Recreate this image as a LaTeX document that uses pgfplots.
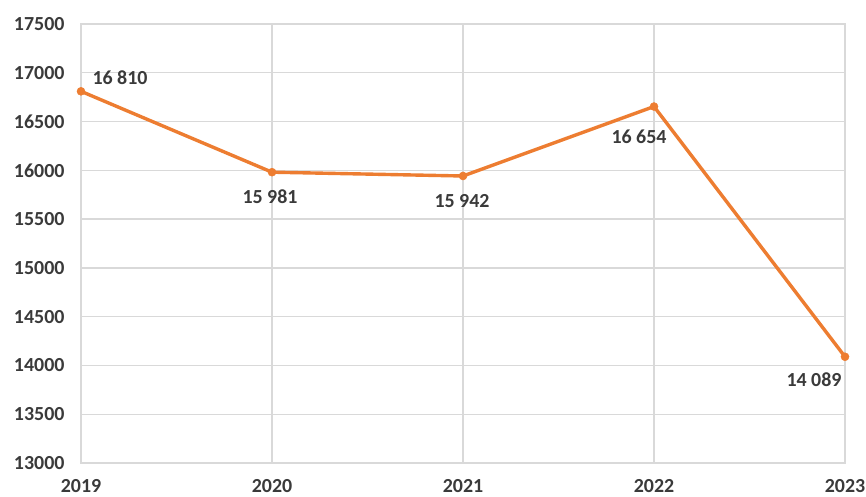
\documentclass[border=0pt]{standalone}
\usepackage{pgfplots}
\usepackage{pgfplotstable}
\pgfplotsset{compat=1.18}
\usepackage{fontspec}
\setmainfont{Carlito}
\definecolor{lineor}{HTML}{ED7D31}
\definecolor{gridg}{HTML}{D9D9D9}
\definecolor{txt}{HTML}{3A3A3A}
\pgfplotstableread{
year value
2019 16810
2020 15981
2021 15942
2022 16654
2023 14089
}\datatable
\tikzset{lbl/.style={anchor=center, inner sep=0pt, font=\fontsize{20}{23}\selectfont\bfseries, text=txt}}
\begin{document}
\begin{tikzpicture}
\begin{axis}[name=ax, at={(0,0)}, anchor=south west,
  scale only axis, width=764bp, height=439bp,
  xmin=2019, xmax=2023, ymin=13000, ymax=17500,
  xtick={2019,2020,2021,2022,2023},
  ytick={13000,13500,14000,14500,15000,15500,16000,16500,17000,17500},
  grid=major, major grid style={draw=gridg, line width=1.3bp},
  axis line style={draw=gridg, line width=1.3bp},
  major tick length=0pt,
  scaled ticks=false,
  /pgf/number format/1000 sep={},
  /pgf/number format/assume math mode=true,
  tick label style={font=\fontsize{20}{23}\selectfont\bfseries, text=txt},
  yticklabel style={xshift=-13bp},
  xticklabel style={yshift=-13bp},
  clip=false]
\addplot[draw=lineor, line width=3.4bp, mark=*, mark size=4bp,
  mark options={fill=lineor, draw=lineor, line width=0.5bp}]
  table[x=year, y=value] {\datatable};
\node[lbl, xshift=39bp, yshift=14bp] at (axis cs:2019,16810) {16 810};
\node[lbl, xshift=-2bp, yshift=-25bp] at (axis cs:2020,15981) {15 981};
\node[lbl, xshift=-1bp, yshift=-25bp] at (axis cs:2021,15942) {15 942};
\node[lbl, xshift=-15bp, yshift=-30bp] at (axis cs:2022,16654) {16 654};
\node[lbl, xshift=-31bp, yshift=-23bp] at (axis cs:2023,14089) {14 089};
\end{axis}
\pgfresetboundingbox
\path[use as bounding box] (-81bp,-34bp) rectangle (785bp,463bp);
\end{tikzpicture}
\end{document}
